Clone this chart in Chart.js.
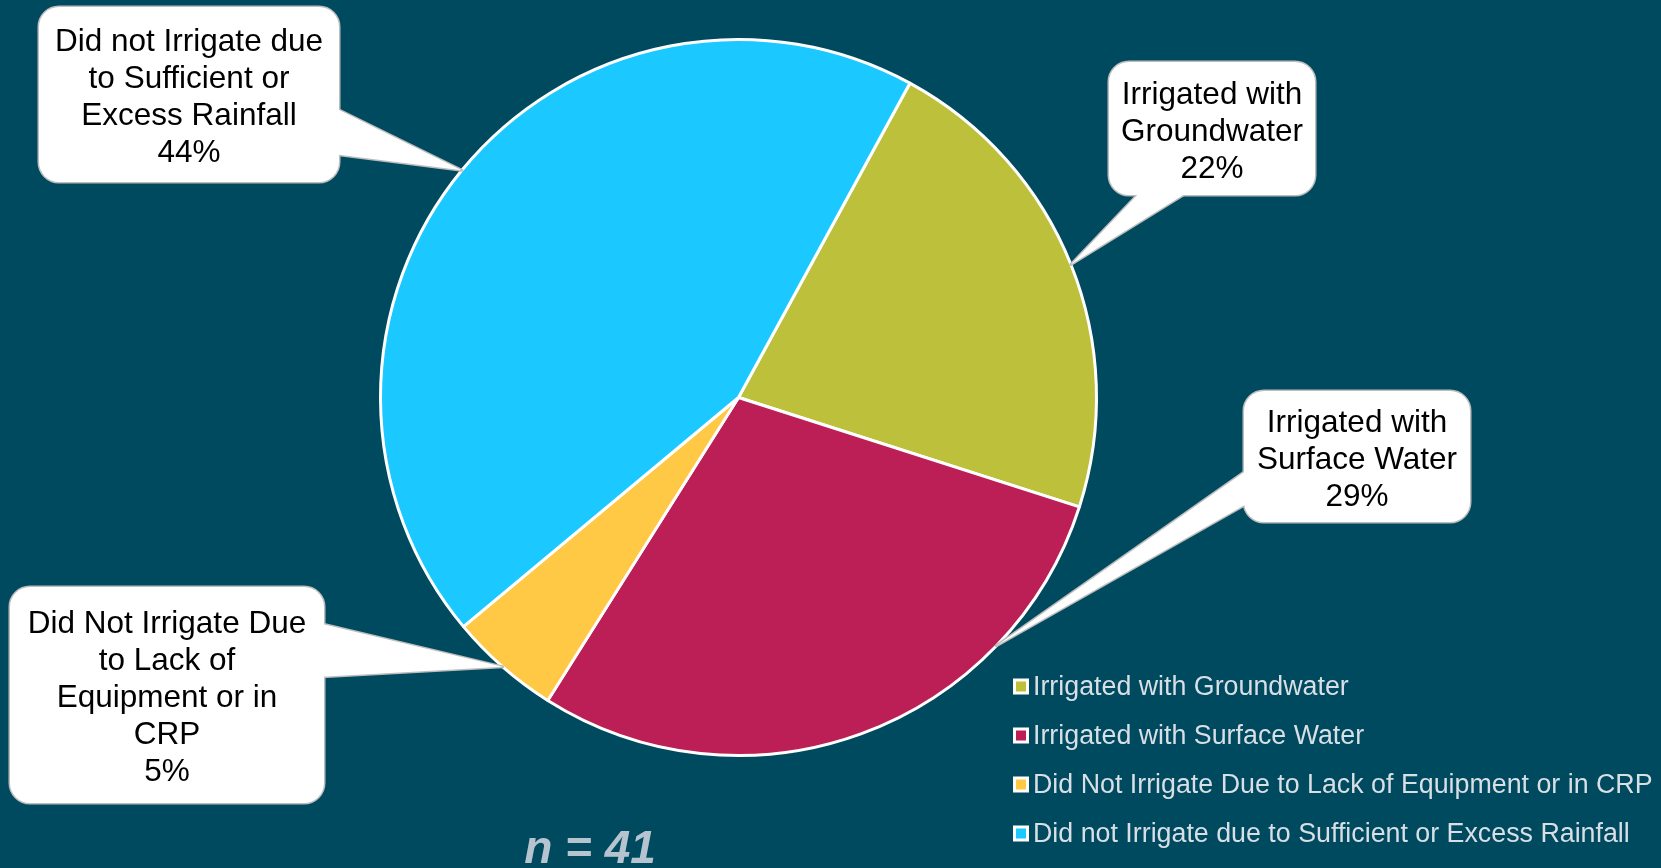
<!DOCTYPE html>
<html><head><meta charset="utf-8">
<script src="https://cdn.jsdelivr.net/npm/chart.js@4.4.1/dist/chart.umd.min.js"></script>
<style>html,body{margin:0;padding:0;background:#004A60;overflow:hidden}</style>
</head><body>
<div style="width:1661px;height:868px;position:relative"><canvas id="c" width="1661" height="868"></canvas></div>
<script>
// ---- data ----
const categories = [
  "Irrigated with Groundwater",
  "Irrigated with Surface Water",
  "Did Not Irrigate Due to Lack of Equipment or in CRP",
  "Did not Irrigate due to Sufficient or Excess Rainfall"
];
const percentValues = [22, 29, 5, 44];
const sliceColors = ["#BCC03A", "#BC1F55", "#FFC845", "#1BC8FF"];
const calloutLabelLines = [
  ["Irrigated with", "Groundwater"],
  ["Irrigated with", "Surface Water"],
  ["Did Not Irrigate Due", "to Lack of", "Equipment or in", "CRP"],
  ["Did not Irrigate due", "to Sufficient or", "Excess Rainfall"]
];
const sampleNote = "n = 41";

const FONT = '"Liberation Sans", Arial, sans-serif';

// ---- layout of callouts (positions only) ----
const calloutLayout = [
  {box: [1109, 62, 1315, 195], side: 'bottom', b1: 1143, b2: 1193, frac: 0.5},
  {box: [1244, 391, 1470, 522], side: 'left', b1: 468, b2: 502, frac: 0.25},
  {box: [10, 587, 324, 803], side: 'right', b1: 623, b2: 677, frac: 0.5},
  {box: [39, 7, 339, 182], side: 'right', b1: 107, b2: 154, frac: 0.5}
];

const calloutPlugin = {
  id: 'callouts',
  afterDatasetsDraw(chart) {
    const ctx = chart.ctx;
    const meta = chart.getDatasetMeta(0);
    const ds = chart.data.datasets[0];
    meta.data.forEach((arc, i) => {
      const L = calloutLayout[i];
      const p = arc.getProps(['x', 'y', 'startAngle', 'endAngle', 'outerRadius'], true);
      const a = p.startAngle + L.frac * (p.endAngle - p.startAngle);
      const tx = p.x + Math.cos(a) * p.outerRadius;
      const ty = p.y + Math.sin(a) * p.outerRadius;
      const [x1, y1, x2, y2] = L.box;
      let tri;
      if (L.side === 'right') tri = [[x2 - 6, L.b1], [tx, ty], [x2 - 6, L.b2]];
      else if (L.side === 'left') tri = [[x1 + 6, L.b1], [tx, ty], [x1 + 6, L.b2]];
      else tri = [[L.b1, y2 - 6], [tx, ty], [L.b2, y2 - 6]];
      const rectPath = () => { ctx.beginPath(); ctx.roundRect(x1, y1, x2 - x1, y2 - y1, 20); };
      const triPath = () => { ctx.beginPath(); ctx.moveTo(tri[0][0], tri[0][1]); ctx.lineTo(tri[1][0], tri[1][1]); ctx.lineTo(tri[2][0], tri[2][1]); ctx.closePath(); };
      ctx.save();
      ctx.strokeStyle = '#BDBDBD';
      ctx.lineWidth = 3;
      ctx.lineJoin = 'round';
      rectPath(); ctx.stroke();
      triPath(); ctx.stroke();
      ctx.fillStyle = '#FFFFFF';
      rectPath(); ctx.fill();
      triPath(); ctx.fill();
      // text
      const lines = calloutLabelLines[i].concat([ds.data[i] + '%']);
      const lh = 37;
      const cx = (x1 + x2) / 2, cy = (y1 + y2) / 2;
      ctx.fillStyle = '#000000';
      ctx.font = '31.5px ' + FONT;
      ctx.textAlign = 'center';
      ctx.textBaseline = 'middle';
      lines.forEach((t, k) => {
        ctx.fillText(t, cx, cy + (k - (lines.length - 1) / 2) * lh + 3.5);
      });
      ctx.restore();
    });
  }
};

const legendPlugin = {
  id: 'customLegend',
  afterDraw(chart) {
    const ctx = chart.ctx;
    const labels = chart.data.labels;
    const colors = chart.data.datasets[0].backgroundColor;
    ctx.save();
    labels.forEach((lab, i) => {
      const cy = 686.5 + i * 49;
      ctx.fillStyle = '#FFFFFF';
      ctx.fillRect(1013, cy - 8, 16, 16);
      ctx.fillStyle = colors[i];
      ctx.fillRect(1016, cy - 5, 10, 10);
      ctx.fillStyle = '#D8DFE5';
      ctx.font = '26.8px ' + FONT;
      ctx.textAlign = 'left';
      ctx.textBaseline = 'middle';
      ctx.fillText(lab, 1033, cy + 1);
    });
    // sample size note
    ctx.fillStyle = '#B6C4D0';
    ctx.font = 'italic bold 46px ' + FONT;
    ctx.textAlign = 'center';
    ctx.textBaseline = 'alphabetic';
    ctx.fillText(sampleNote, 590, 863);
    ctx.restore();
  }
};

new Chart(document.getElementById('c'), {
  type: 'pie',
  data: {
    labels: categories,
    datasets: [{
      data: percentValues,
      backgroundColor: sliceColors,
      borderColor: '#FFFFFF',
      borderWidth: 3
    }]
  },
  options: {
    responsive: false,
    animation: false,
    rotation: 28.6,
    layout: {padding: {left: 379, right: 563, top: 38, bottom: 111}},
    plugins: {
      legend: {display: false},
      tooltip: {enabled: false}
    }
  },
  plugins: [calloutPlugin, legendPlugin]
});
</script>
</body></html>
